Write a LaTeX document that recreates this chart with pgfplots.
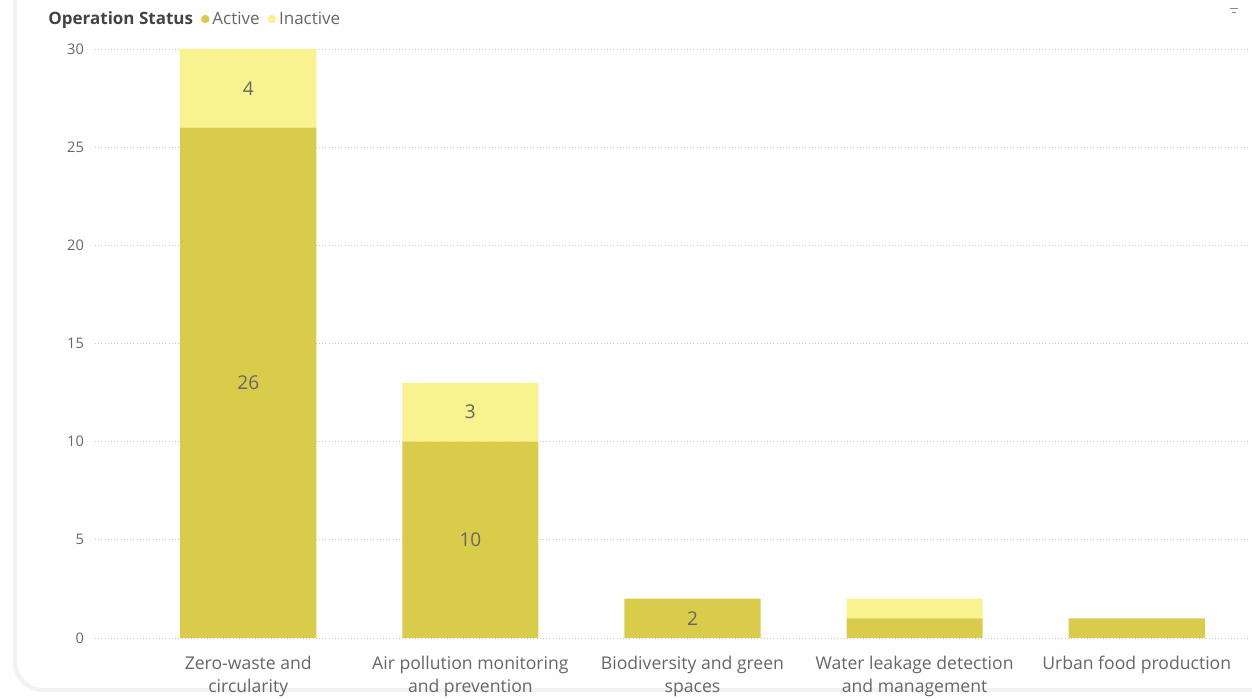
\documentclass[border=0pt]{standalone}
\usepackage{pgfplots}
\pgfplotsset{compat=1.18}
\usepackage{fontspec}
\setmainfont{Open Sans}
\definecolor{active}{HTML}{D9CC4B}
\definecolor{inactive}{HTML}{F8F38E}
\definecolor{txt}{HTML}{666666}
\definecolor{legtxt}{HTML}{444444}
\begin{document}
\begin{tikzpicture}
\useasboundingbox (0,0) rectangle (626pt,349.5pt);
\draw[line width=2.2pt, color=black!5, rounded corners=14pt] (7.5pt,380pt) -- (7.5pt,4.5pt) -- (660pt,4.5pt);
\draw[black!45, line width=0.5pt] (615pt,345pt) -- (619pt,345pt);
\draw[black!45, line width=0.5pt] (616pt,343.3pt) -- (618pt,343.3pt);
\node[anchor=west, inner sep=0pt, font=\fontsize{8.5}{10}\selectfont] at (24pt,339.5pt)
  {\textcolor{legtxt}{\textbf{Operation Status}}\hspace{4pt}\tikz[baseline=-2.7pt]\fill[active] (0,0) circle (2.1pt);\hspace{1.5pt}\textcolor{txt}{Active}\hspace{4pt}\tikz[baseline=-2.7pt]\fill[inactive] (0,0) circle (2.1pt);\hspace{1.5pt}\textcolor{txt}{Inactive}};
\begin{axis}[at={(47.5pt,30.5pt)}, anchor=south west, scale only axis,
  width=577.5pt, height=294.5pt,
  ybar stacked, bar width=0.613,
  xmin=-0.69, xmax=4.51, ymin=0, ymax=30,
  ytick={0,5,...,30}, xtick={0,1,2,3,4},
  xticklabels={Zero-waste and\\circularity, Air pollution monitoring\\and prevention, Biodiversity and green\\spaces, Water leakage detection\\and management, Urban food production},
  axis line style={draw=none}, tick style={draw=none},
  ymajorgrids, grid style={black!22, dash pattern=on 0.4pt off 1.2pt},
  /pgf/number format/assume math mode=true,
  yticklabel style={font=\fontsize{7.3}{8}\selectfont, text=txt, xshift=-2pt},
  xticklabel style={align=center, font=\fontsize{8.8}{11.5}\selectfont, text=txt, yshift=-5.5pt},
  clip=false]
\addplot[fill=active, draw=none] coordinates {(0,26) (1,10) (2,2) (3,1) (4,1)};
\addplot[fill=inactive, draw=none] coordinates {(0,4) (1,3) (2,0) (3,1) (4,0)};
\end{axis}
\begin{axis}[at={(47.5pt,30.5pt)}, anchor=south west, scale only axis,
  width=577.5pt, height=294.5pt, hide axis,
  xmin=-0.69, xmax=4.51, ymin=0, ymax=30, clip=false]
\addplot[draw=none, mark=none, nodes near coords, point meta=explicit symbolic,
  nodes near coords align={center},
  every node near coord/.append style={anchor=center, font=\fontsize{9.5}{10}\selectfont, text=txt}]
  coordinates {(0,13) [26] (0,28) [4] (1,5) [10] (1,11.5) [3] (2,1) [2]};
\end{axis}
\end{tikzpicture}
\end{document}
